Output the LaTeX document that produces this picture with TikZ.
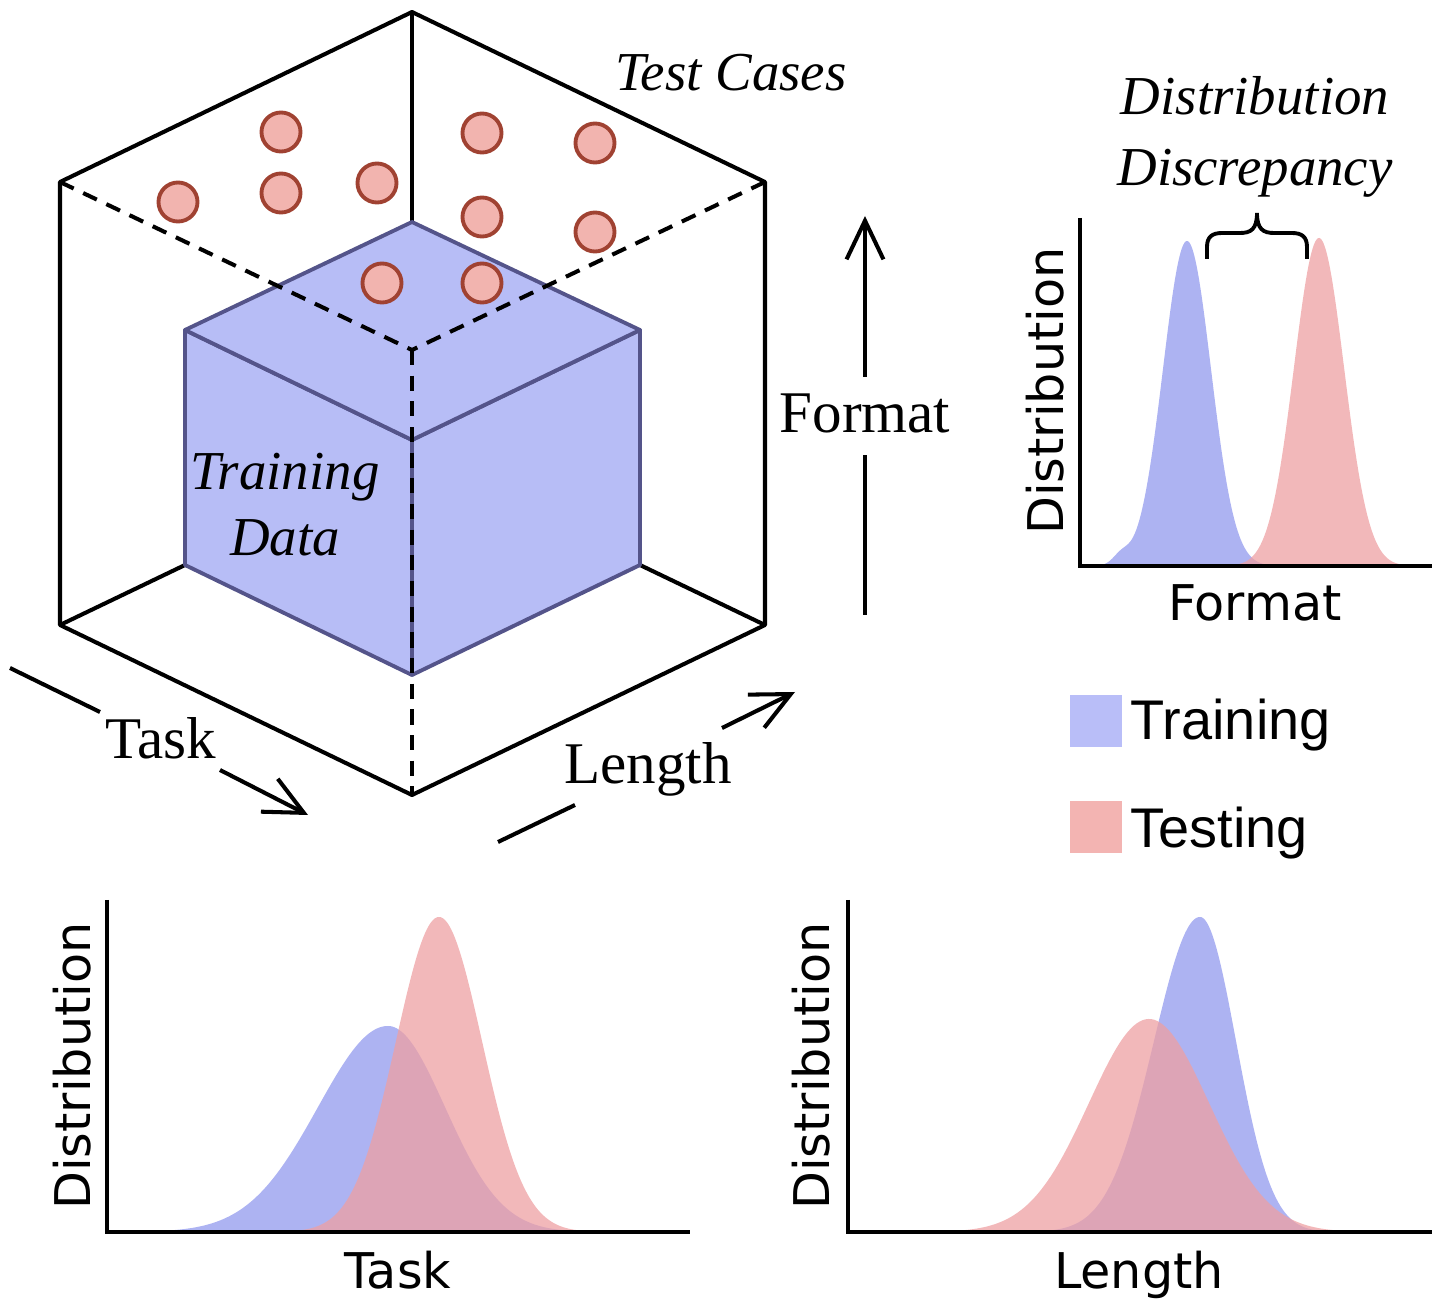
\documentclass[tikz,border=0pt]{standalone}
\usepackage{fontspec}
\setmainfont{Liberation Serif}
\newfontfamily\plotfont{DejaVu Sans}
\newfontfamily\legendfont{Liberation Sans}
\usepackage{tikz}
\usetikzlibrary{arrows.meta,positioning,calc}

\definecolor{cubeblue}{RGB}{183,189,246}
\definecolor{cubeedge}{RGB}{84,84,138}
\definecolor{casefill}{RGB}{242,180,175}
\definecolor{caseedge}{RGB}{160,66,50}
\definecolor{trainblue}{RGB}{173,179,242}
\definecolor{testred}{RGB}{238,160,163}
\definecolor{legblue}{RGB}{185,190,248}
\definecolor{legred}{RGB}{243,180,178}

\begin{document}
\begin{tikzpicture}[x=0.01cm, y=-0.01cm,
    frame/.style={line width=1.15pt, line join=round},
    hidden/.style={line width=1.15pt, dash pattern=on 4.3pt off 3pt},
    face/.style={fill=cubeblue, draw=cubeedge, line width=1.1pt, line join=round},
    testcase/.style={circle, fill=casefill, draw=caseedge, line width=1.1pt,
        minimum size=0.39cm, inner sep=0pt},
    arr/.style={line width=1.15pt, -{Straight Barb[length=11pt,width=10.5pt]}},
    axisline/.style={line width=1.15pt},
    italab/.style={font=\fontsize{15.6}{18.8}\selectfont\itshape, align=center},
    axlab/.style={font=\fontsize{16.8}{20}\selectfont},
    plotlab/.style={font=\plotfont\fontsize{14}{16}\selectfont},
    legsq/.style={minimum size=0.51cm, inner sep=0pt},
    legtext/.style={font=\legendfont\fontsize{15.9}{18}\selectfont, anchor=base west, inner sep=0pt}
]
    \useasboundingbox (0,0) rectangle (1438,1300);

    % Outer box
    \coordinate (top) at (412,12);
    \coordinate (ul) at (60,182);
    \coordinate (ur) at (765,182);
    \coordinate (ll) at (60,625);
    \coordinate (lr) at (765,625);
    \coordinate (bot) at (412,795);
    \coordinate (mid) at (412,350);

    % Training cube
    \coordinate (ct) at (412,222);
    \coordinate (cl) at (185,330);
    \coordinate (cr) at (640,330);
    \coordinate (cf) at (412,440);
    \coordinate (cbl) at (185,565);
    \coordinate (cbr) at (640,565);
    \coordinate (cbf) at (412,675);

    \draw[frame] (ul) -- (top) -- (ur) -- (lr) -- (bot) -- (ll) -- cycle;
    \draw[frame] (top) -- (ct);
    \draw[frame] (ll) -- (cbl);
    \draw[frame] (lr) -- (cbr);

    \filldraw[face] (cl) -- (cf) -- (cbf) -- (cbl) -- cycle;
    \filldraw[face] (cf) -- (cr) -- (cbr) -- (cbf) -- cycle;
    \filldraw[face] (ct) -- (cr) -- (cf) -- (cl) -- cycle;

    \draw[hidden] (ul) -- (mid);
    \draw[hidden] (ur) -- (mid);
    \draw[hidden] (mid) -- (bot);

    % Test cases
    \foreach \cx/\cy [count=\i] in {281/132,178/202,281/193,377/183,482/133,
        595/143,482/217,595/232,382/283,482/283} {
        \node[testcase] (case\i) at (\cx,\cy) {};
    }

    \node[italab, anchor=base] (testcases) at (731,91) {Test Cases};
    \node[italab] (trainlab) at (285,505) {Training\\Data};

    % Axes of the box
    \coordinate (fmtA) at (865,615);
    \coordinate (fmtB) at (865,455);
    \coordinate (fmtC) at (865,377);
    \coordinate (fmtD) at (865,216);
    \draw[axisline] (fmtA) -- (fmtB);
    \draw[arr] (fmtC) -- (fmtD);
    \node[axlab, anchor=base] (fmtlab) at (865,433) {Format};

    \coordinate (taskA) at (10,668);
    \coordinate (taskB) at (100,712);
    \coordinate (taskC) at (220,770);
    \coordinate (taskD) at (308,815);
    \draw[axisline] (taskA) -- (taskB);
    \draw[arr] (taskC) -- (taskD);
    \node[axlab, anchor=base] (tasklab) at (161,759) {Task};

    \coordinate (lenA) at (498,842);
    \coordinate (lenB) at (575,805);
    \coordinate (lenC) at (722,728);
    \coordinate (lenD) at (795,692);
    \draw[axisline] (lenA) -- (lenB);
    \draw[arr] (lenC) -- (lenD);
    \node[axlab, anchor=base] (lenlab) at (648,784) {Length};

    % Format distribution
    \fill[trainblue] (1095,566) -- plot[domain=1095:1280,samples=150]
        (\x,{566-325*exp(-((\x-1187)/24)^2/2)-9*exp(-((\x-1121)/8)^2/2)}) -- (1280,566) -- cycle;
    \fill[testred, fill opacity=0.75] (1220,566) -- plot[domain=1220:1420,samples=150]
        (\x,{566-328*exp(-((\x-1319)/25)^2/2)}) -- (1420,566) -- cycle;
    \draw[axisline] (1080,218) -- (1080,566) -- (1432,566);
    \draw[line width=1.1pt] (1207,259) -- (1207,247) .. controls (1207,237) and (1212,233) .. (1222,233)
        -- (1240,233) .. controls (1251,233) and (1257,229) .. (1257,213)
        .. controls (1257,229) and (1263,233) .. (1274,233) -- (1292,233)
        .. controls (1302,233) and (1307,237) .. (1307,247) -- (1307,259);
    \node[italab, font=\fontsize{15.6}{20.2}\selectfont\itshape] (discr) at (1255,137) {Distribution\\Discrepancy};
    \node[plotlab, rotate=90] (fmty) at (1045,391) {Distribution};
    \node[plotlab, anchor=base] (fmtx) at (1255,620) {Format};

    % Task distribution
    \fill[trainblue] (170,1232) -- plot[domain=170:388,samples=100]
        (\x,{1232-206*exp(-((\x-388)/70)^2/2)}) -- plot[domain=388:600,samples=100]
        (\x,{1232-206*exp(-((\x-388)/57)^2/2)}) -- (600,1232) -- cycle;
    \fill[testred, fill opacity=0.75] (290,1232) -- plot[domain=290:590,samples=150]
        (\x,{1232-315*exp(-((\x-439)/43)^2/2)}) -- (590,1232) -- cycle;
    \draw[axisline] (107,900) -- (107,1232) -- (690,1232);
    \node[plotlab, rotate=90] (tasky) at (72,1066) {Distribution};
    \node[plotlab, anchor=base] (taskx) at (398,1288) {Task};

    % Length distribution
    \fill[trainblue] (1040,1232) -- plot[domain=1040:1200,samples=100]
        (\x,{1232-315*exp(-((\x-1200)/46)^2/2)}) -- plot[domain=1200:1350,samples=100]
        (\x,{1232-315*exp(-((\x-1200)/36)^2/2)}) -- (1350,1232) -- cycle;
    \fill[testred, fill opacity=0.75] (930,1232) -- plot[domain=930:1370,samples=150]
        (\x,{1232-213*exp(-((\x-1149)/60)^2/2)}) -- (1370,1232) -- cycle;
    \draw[axisline] (848,900) -- (848,1232) -- (1432,1232);
    \node[plotlab, rotate=90] (leny) at (811,1066) {Distribution};
    \node[plotlab, anchor=base] (lenx) at (1139,1288) {Length};

    % Legend
    \node[legsq, fill=legblue] (trainsq) at (1096,721) {};
    \node[legsq, fill=legred] (testsq) at (1096,827) {};
    \node[legtext] (traintxt) at (1130,740) {Training};
    \node[legtext] (testtxt) at (1130,847) {Testing};
\end{tikzpicture}
\end{document}
